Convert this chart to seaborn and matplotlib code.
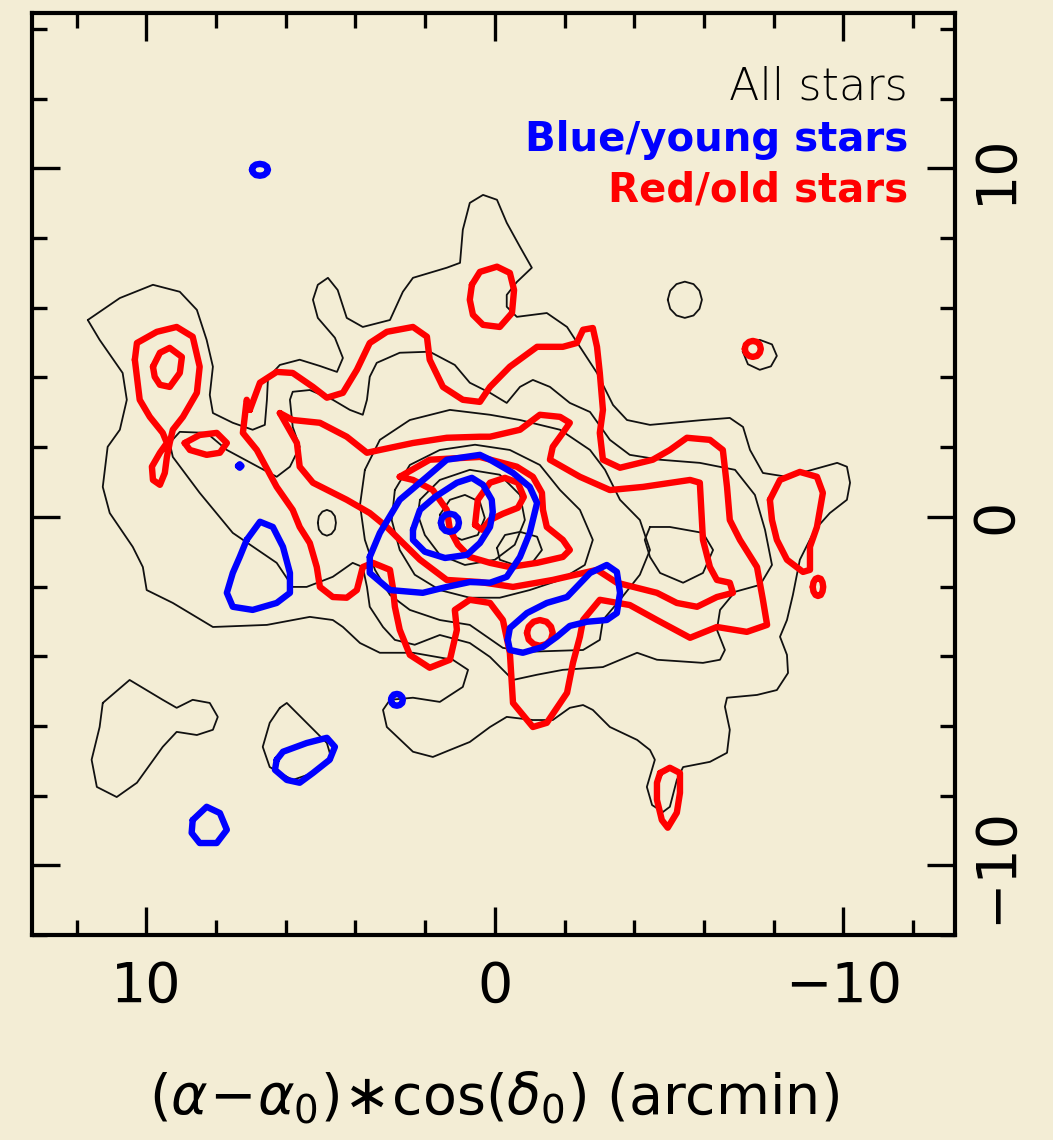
import numpy as np
import pandas as pd
import matplotlib
matplotlib.use("Agg")
import matplotlib.pyplot as plt
import seaborn as sns
from matplotlib.ticker import MultipleLocator

# ---------------- data: traced contour paths (arcmin) ----------------
# All stars (thin black contours)
all_outer_x = [11.68,10.76,9.81,9.04,8.55,8.27,8.09,8.18,8.09,7.52,6.95,6.60,6.54,6.51,6.17,5.60,5.02,4.53,4.36,4.59,5.08,5.22,5.08,4.79,4.51,4.25,3.79,3.01,2.64,2.35,1.38,1.00,0.92,0.72,0.34,-0.06,-0.34,-0.72,-1.06,-0.63,-0.34,-0.34,-0.63,-1.49,-2.07,-2.44,-2.93,-3.39,-3.79,-4.45,-5.97,-6.74,-7.12,-7.32,-7.69,-8.38,-9.82,-10.10,-10.19,-10.10,-9.61,-9.18,-8.75,-8.55,-8.38,-8.18,-8.38,-8.41,-8.09,-7.52,-6.66,-6.60,-6.74,-6.66,-6.17,-5.40,-5.22,-5.02,-4.82,-4.51,-4.36,-4.59,-4.45,-4.08,-3.30,-2.81,-2.53,-2.15,-1.66,-1.09,-0.34,0.14,0.72,1.29,1.78,2.35,3.10,3.21,3.01,2.35,1.58,0.92,0.77,1.21,2.35,3.30,3.87,4.36,4.65,5.31,6.54,8.09,9.24,9.99,10.10,10.39,11.05,11.25,11.11,10.76,10.56,10.68,11.34]
all_outer_y = [5.65,6.28,6.66,6.46,5.94,5.08,4.31,3.50,2.98,2.70,2.50,2.64,3.36,3.99,4.36,4.51,4.33,4.16,4.56,5.14,5.71,6.23,6.66,6.86,6.51,5.71,5.45,5.65,6.46,6.86,7.15,7.29,8.24,9.01,9.24,9.10,8.44,7.75,7.15,6.74,6.37,6.03,5.74,5.85,5.45,4.88,4.13,3.21,2.78,2.64,2.78,2.84,2.58,1.92,1.26,1.15,1.55,1.44,0.98,0.49,0.11,-0.37,-1.23,-2.24,-2.96,-3.44,-3.96,-4.48,-4.97,-5.11,-5.19,-5.45,-6.11,-6.77,-7.03,-7.18,-7.55,-8.32,-8.47,-8.27,-7.75,-6.97,-6.69,-6.40,-6.03,-5.54,-5.40,-5.48,-5.83,-5.83,-5.74,-6.03,-6.46,-6.69,-6.89,-6.74,-6.03,-5.54,-5.25,-5.19,-5.31,-4.88,-4.39,-4.10,-3.90,-3.90,-3.62,-3.16,-2.96,-2.87,-3.10,-3.16,-2.47,-2.10,-1.44,-0.86,0.11,0.86,2.01,2.50,3.36,4.13,5.08]
all_l2_x = [9.33,9.04,8.27,7.69,6.26,5.88,5.60,5.80,5.88,5.80,5.31,4.65,4.16,3.79,3.67,3.59,3.39,2.73,1.87,1.15,0.72,0.14,-0.34,-0.72,-1.09,-1.58,-2.15,-2.73,-3.30,-3.87,-4.74,-5.88,-6.89,-7.46,-7.75,-7.95,-7.61,-6.89,-6.46,-6.37,-6.60,-6.46,-5.97,-4.65,-4.08,-3.10,-1.95,-1.21,-0.52,0.14,0.72,1.58,2.30,2.87,3.21,3.59,3.67,3.79,4.08,4.65,5.40,5.80,6.26,7.52,8.47,9.24]
all_l2_y = [2.12,2.44,2.41,1.92,1.15,1.44,2.01,2.58,3.36,3.59,3.64,3.36,3.07,2.93,3.36,4.02,4.42,4.71,4.74,4.36,3.85,3.56,3.27,3.73,3.93,3.73,3.27,3.01,2.21,1.78,1.64,1.55,1.35,0.63,-0.37,-1.38,-1.95,-2.15,-2.67,-3.24,-3.82,-4.10,-4.19,-4.10,-3.90,-4.31,-4.39,-4.53,-4.68,-4.02,-3.62,-3.39,-3.67,-3.53,-3.16,-2.58,-2.01,-1.44,-1.32,-1.72,-2.01,-2.01,-1.32,-0.46,0.69,1.72]
all_l3_x = [3.73,3.30,2.44,1.29,0.14,-0.72,-1.87,-2.73,-3.16,-3.59,-4.16,-4.45,-4.16,-3.59,-3.10,-3.01,-2.53,-1.00,-0.23,0.72,1.58,2.44,3.01,3.44,3.73,3.87]
all_l3_y = [1.35,2.21,2.78,3.07,2.93,2.78,2.50,1.92,1.35,0.49,-0.09,-0.95,-1.66,-2.38,-2.96,-3.53,-3.82,-3.87,-3.76,-3.10,-2.96,-2.67,-2.24,-1.52,-0.66,0.34]
all_l4_x = [2.87,2.44,1.58,0.57,-0.43,-1.29,-1.87,-2.44,-2.81,-2.58,-1.87,-1.00,-0.14,0.72,1.58,2.30,2.73,2.96]
all_l4_y = [0.77,1.49,1.92,2.07,1.92,1.49,0.77,0.20,-0.66,-1.38,-1.81,-2.10,-2.32,-2.32,-2.10,-1.66,-0.95,-0.09]
all_l5_x = [2.15,1.58,0.72,-0.14,-0.72,-0.86,-0.57,0.00,0.86,1.58,2.01,2.21]
all_l5_y = [0.49,1.06,1.35,1.21,0.63,-0.09,-0.80,-1.23,-1.38,-1.09,-0.52,0.06]
all_l6_x = [1.58,1.29,0.86,0.43,0.29,0.49,0.95,1.38]
all_l6_y = [0.06,0.49,0.63,0.43,-0.03,-0.52,-0.66,-0.46]
all_isl1_x = [5.08,5.05,4.95,4.82,4.69,4.59,4.56,4.59,4.69,4.82,4.95,5.05]
all_isl1_y = [-0.17,0.02,0.15,0.20,0.15,0.02,-0.17,-0.36,-0.49,-0.54,-0.49,-0.36]
all_isl2_x = [-4.96,-5.03,-5.21,-5.45,-5.70,-5.87,-5.94,-5.87,-5.70,-5.45,-5.21,-5.03]
all_isl2_y = [6.23,6.49,6.68,6.75,6.68,6.49,6.23,5.97,5.78,5.71,5.78,5.97]
all_isl3_x = [-7.11,-7.30,-7.60,-7.95,-8.09,-7.92,-7.60,-7.26]
all_isl3_y = [4.75,5.00,5.08,4.95,4.62,4.32,4.22,4.38]
all_isl4_x = [11.25,10.48,9.53,9.13,8.67,8.18,7.95,8.09,8.55,9.13,9.53,10.27,10.85,11.42,11.57,11.34]
all_isl4_y = [-5.34,-4.68,-5.25,-5.48,-5.25,-5.34,-5.74,-6.11,-6.26,-6.17,-6.60,-7.63,-8.04,-7.75,-6.97,-6.03]
all_isl5_x = [6.17,5.97,5.40,4.82,4.68,5.22,5.80,6.46,6.66,6.46]
all_isl5_y = [-5.48,-5.34,-5.91,-6.49,-6.97,-7.35,-7.55,-7.18,-6.60,-5.91]
all_isl6_x = [-4.45,-5.02,-5.97,-6.26,-5.97,-5.40,-4.74,-4.45,-4.30]
all_isl6_y = [-0.29,-0.29,-0.46,-0.95,-1.61,-1.89,-1.61,-1.15,-0.66]
all_isl7_x = [-0.06,-0.29,-0.72,-1.21,-1.35,-1.09,-0.57,-0.14]
all_isl7_y = [-0.89,-0.52,-0.43,-0.57,-0.95,-1.29,-1.38,-1.23]

# Red/old stars (thick red contours)
red_l1_x = [7.03,6.74,6.26,5.80,5.22,4.82,4.36,3.96,3.59,3.10,2.35,1.95,1.87,1.49,0.92,0.43,0.14,-0.43,-1.21,-1.95,-2.35,-2.53,-2.81,-2.93,-3.01,-3.10,-3.01,-3.10,-3.59,-4.53,-5.02,-5.51,-6.17,-6.54,-6.66,-6.74,-7.03,-7.52,-7.69,-7.81,-7.23,-6.37,-5.60,-4.65,-3.87,-3.01,-2.53,-2.44,-2.24,-2.07,-1.49,-1.09,-0.52,-0.43,-0.23,0.14,0.72,1.15,1.09,1.29,1.87,2.44,2.73,2.87,2.93,3.01,3.50,3.79,3.96,4.25,4.65,5.02,5.11,5.31,5.60,5.80,6.26,6.83,7.23,7.12]
red_l1_y = [3.07,3.85,4.16,4.13,3.73,3.42,3.56,4.22,4.99,5.31,5.45,5.17,4.51,3.73,3.36,3.30,3.73,4.31,4.88,4.88,4.99,5.37,5.42,4.88,4.13,3.07,2.41,1.64,1.41,1.64,1.92,2.27,2.21,1.92,0.86,-0.09,-0.66,-1.44,-2.38,-3.10,-3.30,-3.16,-3.47,-2.96,-2.53,-2.38,-2.96,-3.44,-4.19,-5.05,-5.91,-6.03,-5.34,-3.90,-2.96,-2.47,-2.38,-2.67,-3.24,-4.10,-4.33,-3.96,-3.24,-2.58,-2.01,-1.52,-1.32,-1.44,-2.10,-2.32,-2.30,-2.01,-1.44,-0.75,-0.29,0.20,0.86,1.92,2.41,3.36]
red_l2_x = [6.17,5.80,5.02,4.25,3.67,3.30,2.35,1.38,0.43,0.14,-0.72,-1.29,-1.87,-2.15,-1.95,-1.66,-1.58,-2.44,-3.30,-4.25,-5.60,-5.88,-5.97,-6.17,-6.37,-6.74,-6.83,-6.37,-5.80,-5.22,-4.65,-3.50,-2.93,-1.66,-0.52,0.43,1.38,2.15,2.73,3.10,3.59,4.25,5.22,5.60,5.68]
red_l2_y = [2.98,2.78,2.70,2.30,1.84,1.92,2.12,2.27,2.30,2.30,2.50,2.93,2.87,2.70,2.41,2.01,1.64,1.15,0.77,0.86,1.06,0.98,-0.66,-1.44,-1.81,-1.89,-2.18,-2.30,-2.58,-2.47,-2.18,-1.89,-1.52,-1.81,-2.01,-1.87,-1.81,-1.23,-0.66,-0.29,0.11,0.49,0.98,1.44,2.12]
red_l3_x = [2.73,1.87,0.43,-0.63,-1.09,-1.35,-1.38,-1.49,-1.95,-2.15,-1.95,-1.21,-0.43,0.14,0.72,1.06,1.29,1.38,1.78,2.35]
red_l3_y = [1.15,1.64,1.72,1.44,1.15,0.69,0.20,-0.29,-0.66,-0.95,-1.15,-1.32,-1.44,-1.32,-1.15,-0.80,-0.37,0.20,0.77,1.06]
red_c1_x = [0.57,0.49,0.14,-0.29,-0.66,-0.83,-0.66,-0.23,0.14,0.37]
red_c1_y = [-0.23,0.49,0.98,1.12,0.98,0.57,0.26,0.09,-0.09,-0.37]
red_c2_x = [-0.92,-0.97,-1.11,-1.29,-1.48,-1.61,-1.66,-1.61,-1.48,-1.29,-1.11,-0.97]
red_c2_y = [-3.33,-3.15,-3.01,-2.96,-3.01,-3.15,-3.33,-3.52,-3.65,-3.70,-3.65,-3.52]
red_top_x = [0.66,0.43,-0.06,-0.43,-0.55,-0.49,-0.14,0.34,0.63,0.72]
red_top_y = [6.66,7.03,7.18,7.00,6.51,5.85,5.45,5.51,5.80,6.23]
red_dot_x = [-7.17,-7.20,-7.29,-7.40,-7.52,-7.60,-7.63,-7.60,-7.52,-7.40,-7.29,-7.20]
red_dot_y = [4.82,4.94,5.02,5.05,5.02,4.94,4.82,4.71,4.62,4.59,4.62,4.71]
red_drop_x = [10.33,10.27,9.70,9.13,8.67,8.47,8.55,8.95,9.24,9.33,9.41,9.47,9.61,9.81,9.84,9.61,9.41,9.53,9.90,10.19]
red_drop_y = [4.51,4.99,5.31,5.45,5.17,4.31,3.56,2.87,2.50,2.12,1.72,1.26,0.92,1.06,1.44,1.84,2.12,2.41,2.87,3.36]
red_drop_in_x = [9.81,9.61,9.33,8.98,9.04,9.33,9.61,9.76]
red_drop_in_y = [4.31,4.71,4.85,4.59,4.13,3.73,3.79,4.02]
red_side_x = [8.90,8.47,7.98,7.69,7.89,8.27,8.75]
red_side_y = [2.12,2.35,2.41,2.12,1.84,1.78,1.92]
red_east_x = [-7.89,-8.18,-8.75,-9.24,-9.41,-9.24,-9.04,-9.04,-8.84,-8.38,-8.09,-7.95]
red_east_y = [0.49,1.06,1.29,1.15,0.69,-0.29,-0.86,-1.52,-1.58,-1.23,-0.66,-0.09]
red_east2_x = [-9.12,-9.14,-9.20,-9.27,-9.35,-9.40,-9.42,-9.40,-9.35,-9.27,-9.20,-9.14]
red_east2_y = [-2.01,-1.88,-1.78,-1.75,-1.78,-1.88,-2.01,-2.14,-2.24,-2.27,-2.24,-2.14]
red_south_x = [-4.74,-5.02,-5.31,-5.31,-5.22,-4.96,-4.79,-4.65,-4.65]
red_south_y = [-7.35,-7.20,-7.35,-7.92,-8.49,-8.92,-8.70,-8.12,-7.63]

# Blue/young stars (thick blue contours)
blue_big_x = [3.59,3.30,2.73,1.95,1.38,0.43,0.14,-0.52,-1.00,-1.21,-1.00,-0.72,-0.34,0.14,0.72,1.38,2.07,3.01,3.59]
blue_big_y = [-1.15,-0.46,0.49,1.15,1.64,1.78,1.64,1.26,0.86,0.40,-0.46,-1.15,-1.72,-1.89,-1.87,-2.01,-2.18,-2.10,-1.61]
blue_in_x = [2.35,2.15,1.72,1.09,0.66,0.34,0.09,0.06,0.14,0.43,0.80,1.43,2.01,2.35]
blue_in_y = [-0.37,0.20,0.57,0.98,1.12,0.92,0.49,0.14,-0.29,-0.75,-1.09,-1.18,-1.00,-0.66]
blue_core_x = [1.55,1.52,1.42,1.29,1.16,1.06,1.03,1.06,1.16,1.29,1.42,1.52]
blue_core_y = [-0.17,-0.04,0.06,0.09,0.06,-0.04,-0.17,-0.30,-0.40,-0.43,-0.40,-0.30]
blue_se_x = [-0.37,-0.43,-0.92,-1.49,-2.07,-2.73,-3.21,-3.50,-3.59,-3.50,-3.21,-2.64,-2.15,-1.78,-1.38,-0.80,-0.43]
blue_se_y = [-3.53,-3.19,-2.76,-2.47,-2.30,-1.61,-1.38,-1.58,-2.18,-2.76,-2.96,-3.01,-3.13,-3.44,-3.73,-3.90,-3.82]
blue_w_x = [7.12,6.74,6.37,6.08,5.88,5.88,6.26,6.95,7.52,7.69,7.52,7.32]
blue_w_y = [-0.66,-0.14,-0.29,-0.86,-1.61,-2.18,-2.47,-2.67,-2.58,-2.18,-1.61,-1.15]
blue_n_x = [6.97,6.94,6.86,6.74,6.63,6.54,6.51,6.54,6.63,6.74,6.86,6.94]
blue_n_y = [9.96,10.05,10.11,10.13,10.11,10.05,9.96,9.88,9.81,9.79,9.81,9.88]
blue_dot_x = [7.37,7.32,7.27,7.32]
blue_dot_y = [1.46,1.51,1.46,1.41]
blue_s1_x = [2.98,2.96,2.90,2.81,2.73,2.66,2.64,2.66,2.73,2.81,2.90,2.96]
blue_s1_y = [-5.25,-5.17,-5.10,-5.08,-5.10,-5.17,-5.25,-5.34,-5.40,-5.42,-5.40,-5.34]
blue_s2_x = [6.26,6.08,5.40,4.82,4.59,4.74,5.22,5.60,5.97,6.31]
blue_s2_y = [-6.97,-6.74,-6.49,-6.34,-6.60,-6.97,-7.35,-7.63,-7.55,-7.26]
blue_s3_x = [8.67,8.27,7.89,7.69,7.98,8.47,8.70]
blue_s3_y = [-8.70,-8.32,-8.50,-8.98,-9.36,-9.36,-9.07]

legend_labels = ["All stars", "Blue/young stars", "Red/old stars"]
x_ticks = [10, 0, -10]
y_ticks = [10, 0, -10]


def paths_frame(paths):
    rows = []
    for pid, (xs, ys) in enumerate(paths):
        xs = list(xs) + [xs[0]]
        ys = list(ys) + [ys[0]]
        for i, (a, b) in enumerate(zip(xs, ys)):
            rows.append({"path": pid, "order": i, "x": a, "y": b})
    return pd.DataFrame(rows)


black_df = paths_frame([
    (all_outer_x, all_outer_y), (all_l2_x, all_l2_y), (all_l3_x, all_l3_y),
    (all_l4_x, all_l4_y), (all_l5_x, all_l5_y), (all_l6_x, all_l6_y),
    (all_isl1_x, all_isl1_y), (all_isl2_x, all_isl2_y), (all_isl3_x, all_isl3_y),
    (all_isl4_x, all_isl4_y), (all_isl5_x, all_isl5_y), (all_isl6_x, all_isl6_y),
    (all_isl7_x, all_isl7_y)])
red_df = paths_frame([
    (red_l1_x, red_l1_y), (red_l2_x, red_l2_y), (red_l3_x, red_l3_y),
    (red_c1_x, red_c1_y), (red_c2_x, red_c2_y), (red_top_x, red_top_y),
    (red_dot_x, red_dot_y), (red_drop_x, red_drop_y), (red_drop_in_x, red_drop_in_y),
    (red_side_x, red_side_y), (red_east_x, red_east_y), (red_east2_x, red_east2_y),
    (red_south_x, red_south_y)])
blue_df = paths_frame([
    (blue_big_x, blue_big_y), (blue_in_x, blue_in_y), (blue_core_x, blue_core_y),
    (blue_se_x, blue_se_y), (blue_w_x, blue_w_y), (blue_n_x, blue_n_y),
    (blue_dot_x, blue_dot_y), (blue_s1_x, blue_s1_y), (blue_s2_x, blue_s2_y),
    (blue_s3_x, blue_s3_y)])

# ---------------- figure ----------------
sns.set_theme(style="white")
plt.rcParams["font.family"] = ["DejaVu Sans"]
plt.rcParams["mathtext.fontset"] = "dejavusans"
for key in ["text.color", "axes.labelcolor", "xtick.color", "ytick.color"]:
    plt.rcParams[key] = "black"

bg = "#f3edd5"
fig = plt.figure(figsize=(10.53, 11.40), dpi=100, facecolor=bg)
ax = fig.add_axes([0.0304, 0.1798, 0.8765, 0.8088])
ax.set_facecolor(bg)

common = dict(units="path", estimator=None, sort=False, legend=False, ax=ax,
              solid_joinstyle="round", solid_capstyle="round")
sns.lineplot(data=black_df, x="x", y="y", color="#111111", linewidth=1.3, **common)
sns.lineplot(data=red_df, x="x", y="y", color="#ff0000", linewidth=4.6, **common)
sns.lineplot(data=blue_df, x="x", y="y", color="#0000ff", linewidth=4.6, **common)

ax.set_xlim(13.28, -13.2)
ax.set_ylim(-12.0, 14.46)

ax.xaxis.set_major_locator(MultipleLocator(10))
ax.xaxis.set_minor_locator(MultipleLocator(2))
ax.yaxis.set_major_locator(MultipleLocator(10))
ax.yaxis.set_minor_locator(MultipleLocator(2))
ax.set_xticks(x_ticks)
ax.set_yticks(y_ticks)
ax.set_xticklabels([f"{v:g}".replace("-", "\u2212") for v in x_ticks])
ax.set_yticklabels([f"{v:g}".replace("-", "\u2212") for v in y_ticks])

ax.tick_params(axis="both", which="both", direction="in", top=True, bottom=True,
               left=True, right=True, color="black", labelcolor="black")
ax.tick_params(axis="both", which="major", length=20, width=2.4, labelsize=40)
ax.tick_params(axis="both", which="minor", length=11, width=2.4)
ax.tick_params(axis="x", which="major", pad=18)
ax.tick_params(axis="y", which="major", labelleft=False, labelright=True,
               labelrotation=90, pad=10)
for lab in ax.get_yticklabels():
    lab.set_va("center")
for sp in ax.spines.values():
    sp.set_linewidth(3.0)
    sp.set_color("black")

ax.set_xlabel(r"$(\alpha\!-\!\alpha_0)\!\ast\!\mathrm{cos}(\delta_0)$ (arcmin)", fontsize=40,
              labelpad=40, color="black")
ax.set_ylabel("")

ax.text(0.949, 0.920, legend_labels[0], transform=ax.transAxes, ha="right", va="center",
        fontsize=32, color="black", fontweight="light")
ax.text(0.949, 0.862, legend_labels[1], transform=ax.transAxes, ha="right", va="center",
        fontsize=29, color="#0000ff", fontweight="bold")
ax.text(0.949, 0.808, legend_labels[2], transform=ax.transAxes, ha="right", va="center",
        fontsize=29, color="#ff0000", fontweight="bold")

fig.savefig("out.png", dpi=100, facecolor=bg)
